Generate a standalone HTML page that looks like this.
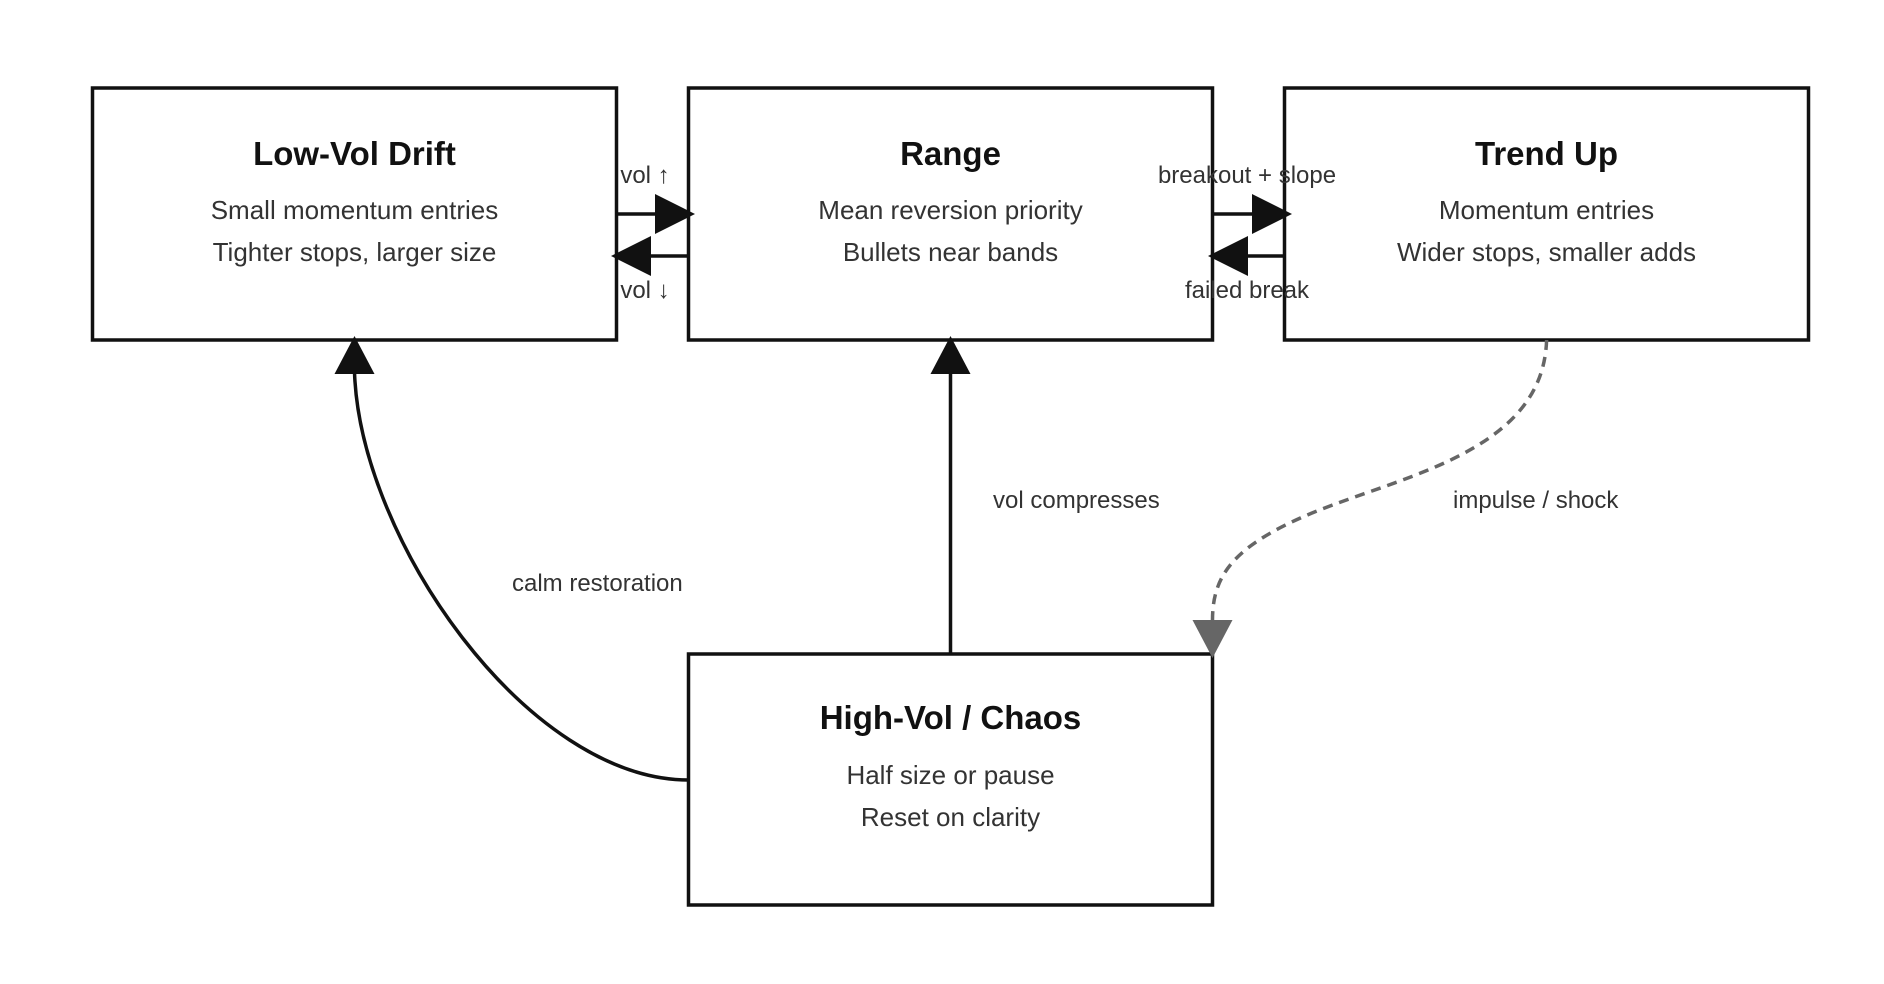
<!DOCTYPE html>
<html><head><meta charset="utf-8"><style>
html,body{margin:0;padding:0;background:#fff;}
svg{display:block;font-family:"Liberation Sans",sans-serif;}
.t{font-weight:bold;font-size:33px;fill:#111;text-anchor:middle;}
.b{font-size:26px;fill:#333;text-anchor:middle;}
.l{font-size:24px;fill:#333;}
</style></head><body>
<svg width="1884" height="984" viewBox="0 0 1884 984" xmlns="http://www.w3.org/2000/svg">
<g fill="#fff" stroke="#111" stroke-width="3.5">
<rect x="92.5" y="88" width="524" height="252"/>
<rect x="688.5" y="88" width="524" height="252"/>
<rect x="1284.5" y="88" width="524" height="252"/>
<rect x="688.5" y="654" width="524" height="251"/>
</g>
<text class="t" x="354.5" y="165">Low-Vol Drift</text>
<text class="b" x="354.5" y="219">Small momentum entries</text>
<text class="b" x="354.5" y="261">Tighter stops, larger size</text>
<text class="t" x="950.5" y="165">Range</text>
<text class="b" x="950.5" y="219">Mean reversion priority</text>
<text class="b" x="950.5" y="261">Bullets near bands</text>
<text class="t" x="1546.5" y="165">Trend Up</text>
<text class="b" x="1546.5" y="219">Momentum entries</text>
<text class="b" x="1546.5" y="261">Wider stops, smaller adds</text>
<text class="t" x="950.5" y="729">High-Vol / Chaos</text>
<text class="b" x="950.5" y="784">Half size or pause</text>
<text class="b" x="950.5" y="826">Reset on clarity</text>
<g stroke="#111" stroke-width="3.5" fill="none">
<line x1="616" y1="214" x2="658" y2="214"/>
<line x1="689" y1="256" x2="648" y2="256"/>
<line x1="1212" y1="214" x2="1255" y2="214"/>
<line x1="1285" y1="256" x2="1244" y2="256"/>
<line x1="950.5" y1="654" x2="950.5" y2="372"/>
<path d="M688.6,780 C528,780 360,540 354.5,372"/>
</g>
<g fill="#111">
<polygon points="655,194 695,214 655,234"/>
<polygon points="651,236 611,256 651,276"/>
<polygon points="1252,194 1292,214 1252,234"/>
<polygon points="1248,236 1208,256 1248,276"/>
<polygon points="930.5,374 950.5,336 970.5,374"/>
<polygon points="334.5,374 354.5,336 374.5,374"/>
</g>
<path d="M1546.6,340 C1543,458 1386,478 1296,520 C1231,550 1212.5,578 1212.5,620" stroke="#666" stroke-width="3.5" fill="none" stroke-dasharray="10,7"/>
<polygon points="1192.5,620 1232.5,620 1212.5,658" fill="#666"/>
<text class="l" x="645" y="183" text-anchor="middle">vol ↑</text>
<text class="l" x="645" y="298" text-anchor="middle">vol ↓</text>
<text class="l" x="1247" y="183" text-anchor="middle">breakout + slope</text>
<text class="l" x="1247" y="298" text-anchor="middle">failed break</text>
<text class="l" x="993" y="508">vol compresses</text>
<text class="l" x="1453" y="508">impulse / shock</text>
<text class="l" x="512" y="591">calm restoration</text>
</svg>
</body></html>
